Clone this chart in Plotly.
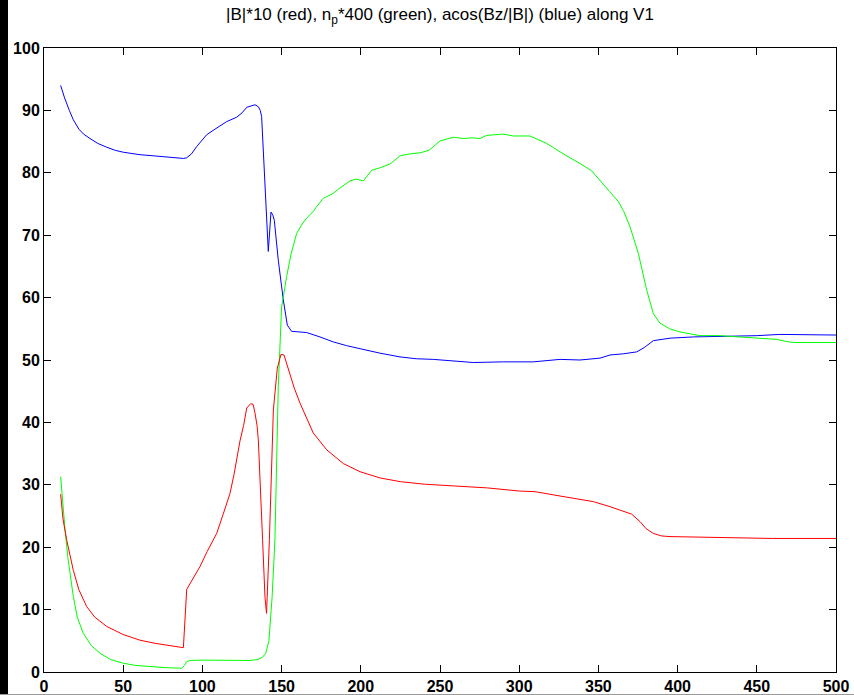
import plotly.graph_objects as go

# acos(Bz/|B|) along V1 (blue)
blue_x = [10.5, 13, 16, 18.5, 22, 25, 29, 34, 39.6, 45, 50, 60.6, 70, 80, 88, 90, 93, 96.4, 100,
          102.7, 108, 115.3, 121.6, 125, 128, 131, 133.2, 135.3, 136.5, 137.4, 139.5, 141.6, 143.3,
          144.5, 145.4, 147.9, 151.1, 153.6, 156.3, 165.8, 174.2, 182.6, 191, 203.7, 212, 224.7,
          235, 245.8, 258, 271, 290, 308.9, 325.8, 338.4, 351, 357.3, 366, 374.2, 379, 384.7,
          395.2, 410, 431, 450, 464.6, 480, 500]
blue_y = [94.0, 92.0, 90.0, 88.5, 87.0, 86.2, 85.5, 84.7, 84.1, 83.6, 83.3, 82.9, 82.7, 82.5, 82.3,
          82.4, 83.0, 84.2, 85.3, 86.1, 87.0, 88.2, 88.9, 89.6, 90.5, 90.8, 90.9, 90.6, 90.0, 89.0,
          77.8, 67.4, 73.7, 73.2, 72.4, 66.0, 59.6, 55.6, 54.6, 54.4, 53.7, 52.9, 52.3, 51.5, 51.1,
          50.5, 50.2, 50.1, 49.9, 49.6, 49.7, 49.7, 50.1, 50.0, 50.3, 50.8, 51.0, 51.3, 52.0, 53.1,
          53.5, 53.7, 53.8, 53.9, 54.1, 54.1, 54.0]

# n_p * 400 (green)
green_x = [10.5, 12, 13.3, 15, 18.5, 21, 24.8, 30, 35.4, 42, 50.1, 58, 66.9, 77, 86.9, 88.5, 90.1,
           92, 100.6, 110, 123.7, 130, 135, 138, 140, 142, 144, 145.8, 147.9, 150, 153.2, 156,
           159.5, 163, 166, 170, 172.2, 176.3, 182.6, 186, 193.2, 197, 201.6, 206.9, 212.1, 218.4,
           224.7, 230, 237.4, 243, 250, 258.4, 264.7, 270, 275.3, 279.5, 290, 296.3, 306.8, 312,
           317.4, 330, 338.4, 345.8, 351, 357, 362.6, 366, 369.9, 375.2, 380.5, 384.7, 388.9, 395,
           401.5, 414.1, 426.8, 443.6, 462.6, 468, 473.1, 500]
green_y = [31.3, 26.5, 22.8, 18.5, 12.1, 8.8, 6.2, 4.2, 3.0, 2.0, 1.4, 1.05, 0.85, 0.7, 0.6, 1.0,
           1.65, 1.85, 1.9, 1.9, 1.9, 1.85, 2.0, 2.4, 3.0, 5.0, 12.0, 21.2, 45.7, 58.5, 63.4, 67.0,
           70.3, 71.8, 72.8, 73.8, 74.6, 75.9, 76.7, 77.4, 78.7, 79.0, 78.7, 80.4, 80.8, 81.4, 82.7,
           83.0, 83.2, 83.6, 85.1, 85.7, 85.5, 85.6, 85.5, 86.0, 86.2, 85.9, 85.9, 85.3, 84.7, 82.7,
           81.5, 80.3, 78.7, 77.0, 75.4, 73.8, 71.4, 67.1, 61.2, 57.4, 55.9, 55.0, 54.5, 53.9, 53.9,
           53.6, 53.3, 53.0, 52.8, 52.8]

# |B| * 10 (red)
red_x = [10.5, 12, 14.3, 16, 18.5, 22, 26.9, 32, 39.6, 50, 60.6, 70, 80, 86.9, 88, 90.1, 94, 98.5,
         103, 109, 113, 117.4, 120, 123.7, 126, 128, 130.5, 132, 133.2, 134.5, 135.3, 136.5, 138,
         139.5, 140.5, 142.3, 143.5, 144.8, 147.3, 149.6, 151.5, 153, 155.3, 158, 161.6, 166, 170,
         178.5, 189, 199.5, 212.1, 225, 240, 260, 280, 300, 310, 325.8, 346.8, 357.3, 371, 376.3,
         380, 384.7, 390, 395.2, 431, 460, 500]
red_y = [28.5, 24.5, 21.2, 19.0, 16.3, 13.2, 10.5, 8.8, 7.3, 6.0, 5.1, 4.6, 4.2, 3.95, 3.9, 13.25,
         15.0, 16.9, 19.3, 22.2, 25.2, 28.6, 31.7, 37.0, 39.5, 42.3, 43.0, 42.9, 41.5, 39.5, 37.2,
         31.0, 21.2, 12.0, 9.4, 21.2, 32.0, 42.0, 48.7, 50.9, 50.8, 49.6, 47.9, 45.5, 43.1, 40.5,
         38.3, 35.6, 33.4, 32.1, 31.1, 30.5, 30.1, 29.8, 29.5, 29.0, 28.9, 28.2, 27.3, 26.5, 25.3,
         24.1, 23.0, 22.2, 21.8, 21.7, 21.5, 21.4, 21.4]

x_ticks = list(range(0, 501, 50))
y_ticks = list(range(0, 101, 10))

W, H = 854, 695
ML, MR, MT, MB = 44, 18, 48, 23
PW, PH = W - ML - MR, H - MT - MB

fig = go.Figure()
for xs, ys, col in [(blue_x, blue_y, "#0000ff"), (green_x, green_y, "#00ff00"), (red_x, red_y, "#ff0000")]:
    fig.add_trace(go.Scatter(x=xs, y=ys, mode="lines", line=dict(color=col, width=1),
                             showlegend=False, hoverinfo="skip"))

tickfont = dict(family="Liberation Sans, Arial, sans-serif", size=16, color="black", weight="bold")
axis_common = dict(showgrid=False, zeroline=False, showline=True, linecolor="black", linewidth=1,
                   mirror="allticks", ticks="inside", ticklen=7, tickwidth=1, tickcolor="black",
                   tickfont=tickfont, automargin=False)

fig.update_layout(
    width=W, height=H,
    margin=dict(l=ML, r=MR, t=MT, b=MB, pad=0),
    paper_bgcolor="white", plot_bgcolor="white",
    title=dict(text="|B|*10 (red), n<sub>p</sub>*400 (green), acos(Bz/|B|) (blue) along V1",
               x=(ML + PW / 2) / W, xanchor="center", xref="container",
               y=1 - 14 / H, yanchor="middle", yref="container",
               font=dict(family="Liberation Sans, Arial, sans-serif", size=17, color="black")),
    xaxis=dict(range=[0, 500], tickvals=x_ticks, ticktext=[str(v) for v in x_ticks], **axis_common),
    yaxis=dict(range=[0, 100], tickvals=y_ticks, ticktext=[str(v) for v in y_ticks], **axis_common),
    shapes=[
        dict(type="rect", xref="paper", yref="paper", x0=-ML / PW, x1=-(ML - 8) / PW,
             y0=-MB / PH, y1=1 + MT / PH, fillcolor="black", line=dict(width=0), layer="above"),
        dict(type="line", xref="paper", yref="paper", x0=-ML / PW, x1=1 + MR / PW,
             y0=-22.5 / PH, y1=-22.5 / PH, line=dict(color="#9a9a9a", width=1)),
    ],
)

fig.write_html("out.html")
